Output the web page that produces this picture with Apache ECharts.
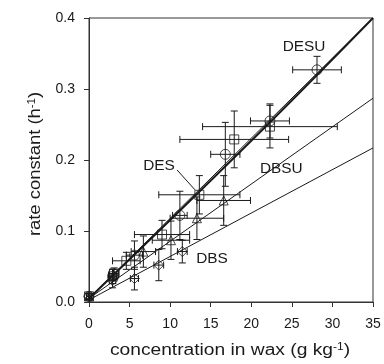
<!DOCTYPE html>
<html>
<head>
<meta charset="utf-8">
<script src="https://cdn.jsdelivr.net/npm/echarts@6/dist/echarts.min.js"></script>
<style>
  html, body { margin: 0; padding: 0; background: #fff; }
  #main { width: 384px; height: 364px; }
</style>
</head>
<body>
<div id="main"></div>
<script>
// axis ticks
const xTicks = [0, 5, 10, 15, 20, 25, 30, 35];
const yTicks = [0, 0.1, 0.2, 0.3, 0.4];
const xTitle = "concentration in wax (g kg{sup|-1})";
const yTitle = "rate constant (h{sup|-1})";

// DESU (circles): x, y, x error, y error
const desuX = [0, 2.9, 5.6, 11.2, 16.8, 22.3, 28.1];
const desuY = [0.008, 0.036, 0.066, 0.122, 0.208, 0.255, 0.327];
const desuXe = [0.3, 0.5, 1.0, 0.9, 1.8, 2.4, 3.0];
const desuYe = [0.004, 0.01, 0.02, 0.034, 0.045, 0.024, 0.019];

// DES (squares)
const desX = [0, 3.1, 4.6, 9.0, 13.6, 17.9, 22.3];
const desY = [0.008, 0.04, 0.058, 0.095, 0.151, 0.229, 0.247];
const desXe = [0.3, 0.6, 1.7, 3.4, 5.0, 6.7, 8.3];
const desYe = [0.004, 0.008, 0.012, 0.02, 0.027, 0.04, 0.03];

// DBSU (triangles)
const dbsuX = [0, 3.0, 6.7, 10.1, 13.3, 16.6];
const dbsuY = [0.008, 0.038, 0.071, 0.087, 0.118, 0.143];
const dbsuXe = [0.3, 0.6, 1.5, 2.3, 3.3, 3.3];
const dbsuYe = [0.004, 0.008, 0.022, 0.027, 0.03, 0.035];

// DBS (diamonds)
const dbsX = [0, 2.9, 5.6, 8.6, 11.5];
const dbsY = [0.008, 0.03, 0.033, 0.052, 0.071];
const dbsXe = [0.3, 0.4, 0.5, 0.6, 0.6];
const dbsYe = [0.004, 0.01, 0.016, 0.022, 0.016];

// fitted lines
const desuFit = [[0, 0.005], [20, 0.227], [35, 0.4]];
const desFit = [[0, 0.005], [35, 0.4]];
const dbsuFit = [[0, 0.005], [35, 0.287]];
const dbsFit = [[0, 0.003], [35, 0.217]];

// annotation labels (data coords)
const labelNames = ["DESU", "DBSU", "DES", "DBS"];
const labelPos = [[26.5, 0.359], [23.7, 0.187], [8.63, 0.1915], [15.16, 0.06]];
const leader = [[10.85, 0.186], [13.06, 0.158]];

const ink = "#1a1a1a";
const font = "Liberation Sans, Arial, sans-serif";

function pts(xs, ys) {
  return xs.map((x, i) => [x, ys[i]]);
}
function errData(xs, ys, xe, ye) {
  return xs.map((x, i) => [x, ys[i], xe[i], ye[i]]);
}

function renderErr(params, api) {
  const x = api.value(0), y = api.value(1), xe = api.value(2), ye = api.value(3);
  const l = api.coord([x - xe, y]), r = api.coord([x + xe, y]);
  const t = api.coord([x, y + ye]), b = api.coord([x, y - ye]);
  const cap = 3.5;
  const st = { stroke: ink, lineWidth: 1 };
  const line = (x1, y1, x2, y2) => ({ type: "line", shape: { x1, y1, x2, y2 }, style: st });
  return {
    type: "group",
    children: [
      line(l[0], l[1], r[0], r[1]),
      line(l[0], l[1] - cap, l[0], l[1] + cap),
      line(r[0], r[1] - cap, r[0], r[1] + cap),
      line(t[0], t[1], b[0], b[1]),
      line(t[0] - cap, t[1], t[0] + cap, t[1]),
      line(b[0] - cap, b[1], b[0] + cap, b[1]),
    ],
  };
}

function errSeries(data) {
  return {
    type: "custom",
    renderItem: renderErr,
    data: data,
    encode: { x: 0, y: 1 },
    silent: true,
    z: 3,
  };
}

function markSeries(data, symbol, size) {
  return {
    type: "scatter",
    data: data,
    symbol: symbol,
    symbolSize: size,
    itemStyle: { color: "transparent", borderColor: ink, borderWidth: 1 },
    z: 4,
  };
}

function fitSeries(data, width) {
  return {
    type: "line",
    data: data,
    smooth: data.length > 2 ? 0.4 : false,
    showSymbol: false,
    lineStyle: { color: ink, width: width },
    z: 2,
  };
}

const supRich = {
  sup: { fontSize: 10, verticalAlign: "top", padding: [0, 0, 7, 0], fill: ink, color: ink, fontFamily: font },
};

const main = document.getElementById("main");
const myChart = echarts.init(main, null, { renderer: "canvas" });

const option = {
  animation: false,
  backgroundColor: "#fff",
  grid: {
    left: 89,
    top: 18,
    width: 284,
    height: 284,
    show: true,
    borderColor: "#333",
    borderWidth: 1,
  },
  xAxis: {
    type: "value",
    min: xTicks[0],
    max: xTicks[xTicks.length - 1],
    interval: 5,
    axisLine: { show: true, lineStyle: { color: "#333", width: 1 } },
    axisTick: { show: true, inside: false, length: 5, lineStyle: { color: "#333" } },
    axisLabel: { color: ink, fontSize: 14, fontFamily: font, margin: 15 },
    splitLine: { show: false },
  },
  yAxis: {
    type: "value",
    min: yTicks[0],
    max: yTicks[yTicks.length - 1],
    interval: 0.1,
    axisLine: { show: true, lineStyle: { color: "#333", width: 1 } },
    axisTick: { show: true, inside: false, length: 5, lineStyle: { color: "#333" } },
    axisLabel: {
      color: ink, fontSize: 14, fontFamily: font, margin: 14,
      formatter: (v) => v.toFixed(1),
    },
    splitLine: { show: false },
  },
  series: [
    fitSeries(desuFit, 2),
    fitSeries(desFit, 1),
    fitSeries(dbsuFit, 1),
    fitSeries(dbsFit, 1),
    fitSeries(leader, 1),
    errSeries(errData(desuX, desuY, desuXe, desuYe)),
    errSeries(errData(desX, desY, desXe, desYe)),
    errSeries(errData(dbsuX, dbsuY, dbsuXe, dbsuYe)),
    errSeries(errData(dbsX, dbsY, dbsXe, dbsYe)),
    markSeries(pts(desuX, desuY), "circle", 10),
    markSeries(pts(desX, desY), "rect", 9),
    markSeries(pts(dbsuX, dbsuY), "triangle", 9),
    markSeries(pts(dbsX, dbsY), "diamond", 10),
  ],
};

myChart.setOption(option);

// text annotations placed from data coordinates, plus the axis titles
const labels = labelNames.map((name, i) => {
  const p = myChart.convertToPixel({ gridIndex: 0 }, labelPos[i]);
  return {
    type: "text",
    x: p[0],
    y: p[1],
    z: 10,
    scaleX: 1.1,
    style: {
      text: name, fill: ink, fontSize: 14, fontFamily: font,
      align: "center", verticalAlign: "middle",
    },
  };
});
labels.push({
  type: "text",
  x: 230,
  y: 351,
  scaleX: 1.2,
  style: {
    text: xTitle, fill: ink, fontSize: 16, fontFamily: font,
    align: "center", verticalAlign: "middle", rich: supRich,
  },
});
labels.push({
  type: "text",
  x: 36,
  y: 164,
  rotation: Math.PI / 2,
  scaleX: 1.15,
  style: {
    text: yTitle, fill: ink, fontSize: 16, fontFamily: font,
    align: "center", verticalAlign: "middle", rich: supRich,
  },
});
myChart.setOption({ graphic: labels });

window.addEventListener("resize", () => {
  myChart.resize();
});
</script>
</body>
</html>
